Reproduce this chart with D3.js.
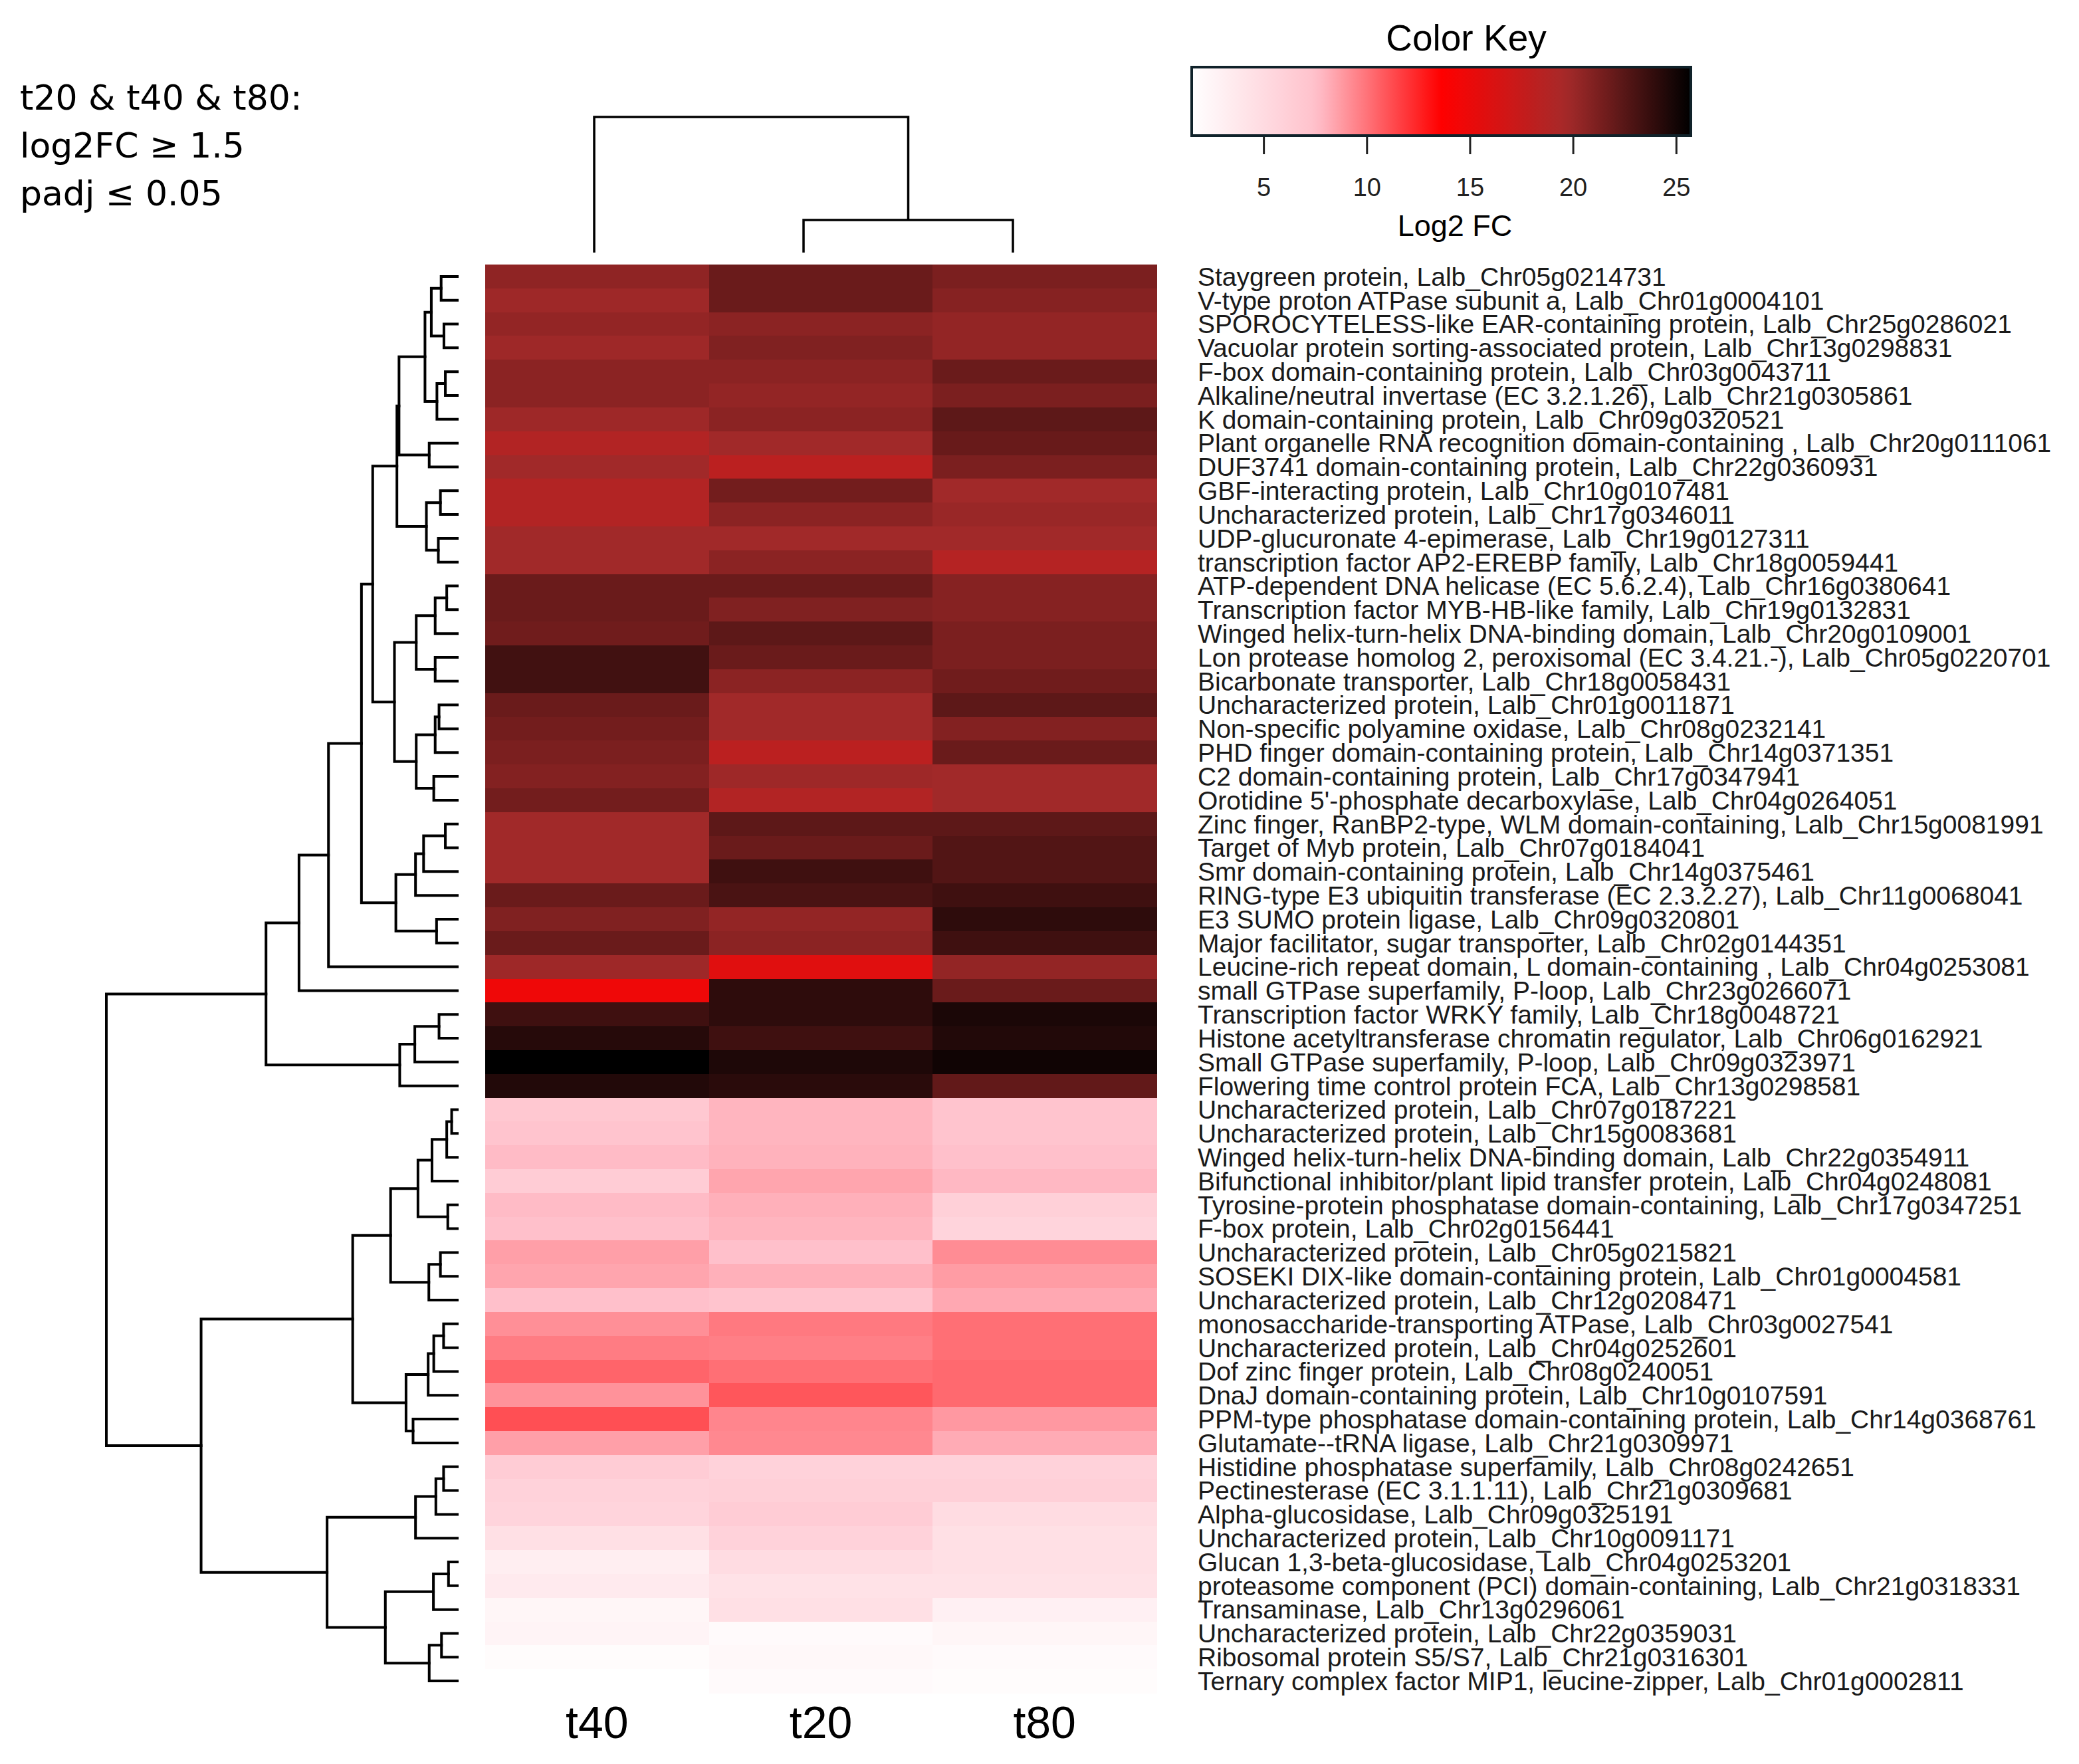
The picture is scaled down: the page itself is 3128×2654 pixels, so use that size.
<!DOCTYPE html>
<html><head><meta charset="utf-8">
<script src="https://cdn.jsdelivr.net/npm/d3@7"></script>
<style>body{margin:0;background:#fff}svg{display:block}</style>
</head><body>
<script>
// ---------------- DATA ----------------
const rowLabels = [
"Staygreen protein, Lalb_Chr05g0214731",
"V-type proton ATPase subunit a, Lalb_Chr01g0004101",
"SPOROCYTELESS-like EAR-containing protein, Lalb_Chr25g0286021",
"Vacuolar protein sorting-associated protein, Lalb_Chr13g0298831",
"F-box domain-containing protein, Lalb_Chr03g0043711",
"Alkaline/neutral invertase (EC 3.2.1.26), Lalb_Chr21g0305861",
"K domain-containing protein, Lalb_Chr09g0320521",
"Plant organelle RNA recognition domain-containing , Lalb_Chr20g0111061",
"DUF3741 domain-containing protein, Lalb_Chr22g0360931",
"GBF-interacting protein, Lalb_Chr10g0107481",
"Uncharacterized protein, Lalb_Chr17g0346011",
"UDP-glucuronate 4-epimerase, Lalb_Chr19g0127311",
"transcription factor AP2-EREBP family, Lalb_Chr18g0059441",
"ATP-dependent DNA helicase (EC 5.6.2.4), Lalb_Chr16g0380641",
"Transcription factor MYB-HB-like family, Lalb_Chr19g0132831",
"Winged helix-turn-helix DNA-binding domain, Lalb_Chr20g0109001",
"Lon protease homolog 2, peroxisomal (EC 3.4.21.-), Lalb_Chr05g0220701",
"Bicarbonate transporter, Lalb_Chr18g0058431",
"Uncharacterized protein, Lalb_Chr01g0011871",
"Non-specific polyamine oxidase, Lalb_Chr08g0232141",
"PHD finger domain-containing protein, Lalb_Chr14g0371351",
"C2 domain-containing protein, Lalb_Chr17g0347941",
"Orotidine 5'-phosphate decarboxylase, Lalb_Chr04g0264051",
"Zinc finger, RanBP2-type, WLM domain-containing, Lalb_Chr15g0081991",
"Target of Myb protein, Lalb_Chr07g0184041",
"Smr domain-containing protein, Lalb_Chr14g0375461",
"RING-type E3 ubiquitin transferase (EC 2.3.2.27), Lalb_Chr11g0068041",
"E3 SUMO protein ligase, Lalb_Chr09g0320801",
"Major facilitator, sugar transporter, Lalb_Chr02g0144351",
"Leucine-rich repeat domain, L domain-containing , Lalb_Chr04g0253081",
"small GTPase superfamily, P-loop, Lalb_Chr23g0266071",
"Transcription factor WRKY family, Lalb_Chr18g0048721",
"Histone acetyltransferase chromatin regulator, Lalb_Chr06g0162921",
"Small GTPase superfamily, P-loop, Lalb_Chr09g0323971",
"Flowering time control protein FCA, Lalb_Chr13g0298581",
"Uncharacterized protein, Lalb_Chr07g0187221",
"Uncharacterized protein, Lalb_Chr15g0083681",
"Winged helix-turn-helix DNA-binding domain, Lalb_Chr22g0354911",
"Bifunctional inhibitor/plant lipid transfer protein, Lalb_Chr04g0248081",
"Tyrosine-protein phosphatase domain-containing, Lalb_Chr17g0347251",
"F-box protein, Lalb_Chr02g0156441",
"Uncharacterized protein, Lalb_Chr05g0215821",
"SOSEKI DIX-like domain-containing protein, Lalb_Chr01g0004581",
"Uncharacterized protein, Lalb_Chr12g0208471",
"monosaccharide-transporting ATPase, Lalb_Chr03g0027541",
"Uncharacterized protein, Lalb_Chr04g0252601",
"Dof zinc finger protein, Lalb_Chr08g0240051",
"DnaJ domain-containing protein, Lalb_Chr10g0107591",
"PPM-type phosphatase domain-containing protein, Lalb_Chr14g0368761",
"Glutamate--tRNA ligase, Lalb_Chr21g0309971",
"Histidine phosphatase superfamily, Lalb_Chr08g0242651",
"Pectinesterase (EC 3.1.1.11), Lalb_Chr21g0309681",
"Alpha-glucosidase, Lalb_Chr09g0325191",
"Uncharacterized protein, Lalb_Chr10g0091171",
"Glucan 1,3-beta-glucosidase, Lalb_Chr04g0253201",
"proteasome component (PCI) domain-containing, Lalb_Chr21g0318331",
"Transaminase, Lalb_Chr13g0296061",
"Uncharacterized protein, Lalb_Chr22g0359031",
"Ribosomal protein S5/S7, Lalb_Chr21g0316301",
"Ternary complex factor MIP1, leucine-zipper, Lalb_Chr01g0002811"
];

const colLabels = ["t40", "t20", "t80"];

const t40 = [20.45,19.9,20.3,19.9,20.6,20.6,19.9,18.8,19.8,18.8,18.8,19.8,19.8,
  21.8,21.8,21.6,23.3,23.3,21.8,21.5,21.2,20.9,21.5,
  19.8,19.8,19.8,21.8,21.0,21.8,19.9,14.7,23.4,24.3,25.7,24.45,
  6.8,7.2,7.7,6.4,7.7,7.55,8.6,8.4,7.55,9.1,9.7,10.45,9.0,11.1,8.6,
  6.4,5.8,5.6,4.5,3.1,3.5,2.4,2.6,1.8,1.5];
const t20 = [21.8,21.8,20.6,21.0,20.6,20.3,20.6,19.8,18.2,21.5,20.6,19.8,20.6,
  21.8,21.0,22.3,21.8,20.6,19.8,19.8,18.2,19.9,18.8,
  22.3,21.8,23.4,23.0,20.3,20.6,15.7,24.0,24.0,23.4,24.6,24.15,
  7.9,7.9,8.0,8.4,8.05,7.9,7.55,8.05,7.2,9.8,9.6,10.1,10.9,9.4,9.3,
  5.8,6.0,6.4,5.8,4.9,4.3,4.5,2.0,2.2,2.0];
const t80 = [21.2,20.8,20.3,20.3,21.8,21.2,22.3,21.9,21.2,19.8,20.1,19.8,18.6,
  20.8,20.8,21.2,21.2,21.6,22.3,20.9,21.8,19.8,19.8,
  22.3,22.7,22.7,23.4,24.0,23.4,20.3,21.8,24.7,24.45,25.1,22.1,
  7.2,7.2,7.55,7.8,6.0,5.6,9.2,8.7,8.3,10.1,10.1,10.3,10.3,8.8,8.2,
  5.8,6.0,4.9,4.5,4.5,4.3,2.9,2.4,2.0,1.8];

const keyTicks = [5, 10, 15, 20, 25];
const colorStops = [1.5, 7.55, 13.6, 19.65, 25.7];
const colorNames = ["white", "pink", "red", "brown", "black"];

const noteLines = ["t20 & t40 & t80:", "log2FC \u2265 1.5", "padj \u2264 0.05"];

// row dendrogram: [left, right, height]; leaves = row index
const rowTree = [
  [ // upper cluster
    [
      [
        [
          [
            [
              [ [ [[0,1,4.6],[2,3,3.8],7.4], [[4,5,3.4],6,5.8], 9.2 ], [7,8,8.0], 16.6 ],
              [ [9,10,4.8], [11,12,5.4], 8.8 ],
              17.2
            ],
            [
              [ [[13,14,3.0],15,6.3], [16,17,6.3], 11.7 ],
              [ [[18,19,5.2],20,6.3], [21,22,6.7], 11.7 ],
              17.9
            ],
            24.1
          ],
          [ [ [[23,24,3.4],25,9.6], 26, 11.9 ], [27,28,5.9], 17.5 ],
          27.3
        ],
        29, 36.7
      ],
      30, 45.1
    ],
    [ [ [31,32,5.2], 33, 12.1 ], 34, 16.4 ],
    54.5
  ],
  [ // lower cluster
    [
      [
        [ [ [[35,36,1.6],37,3.0], 38, 7.2 ], [39,40,2.7], 11.2 ],
        [ [41,42,4.8], 43, 8.1 ],
        19.0
      ],
      [ [ [[44,45,3.9],46,6.7], 47, 8.3 ], [48,49,12.6], 14.6 ],
      29.8
    ],
    [
      [ [ [50,51,3.9], 52, 6.1 ], 53, 11.9 ],
      [ [ [54,55,2.5], 56, 6.8 ], [ [57,58,4.5], 59, 8.0 ], 20.5 ],
      37.1
    ],
    73.0
  ],
  100
];

// column dendrogram (indices into colLabels)
const colTree = [0, [1, 2, 24], 100];

// ---------------- CHART ----------------
const W = 3128, H = 2654;
const svg = d3.select("body").append("svg").attr("width", W).attr("height", H)
  .style("font-family", "'Liberation Sans', Arial, Helvetica, sans-serif");

const series = {t40, t20, t80};
const x = d3.scaleBand().domain(colLabels).range([730, 1740]);
const y = d3.scaleBand().domain(d3.range(rowLabels.length)).range([398, 2547]);
const color = d3.scaleLinear().domain(colorStops).range(colorNames)
  .interpolate(d3.interpolateRgb).clamp(true);

// heatmap cells
const cells = [];
rowLabels.forEach((r, i) => colLabels.forEach(c => cells.push({i, c, v: series[c][i]})));
svg.append("g").attr("shape-rendering", "crispEdges")
  .selectAll("rect").data(cells).join("rect")
  .attr("x", d => x(d.c)).attr("y", d => y(d.i))
  .attr("width", x.bandwidth() + 0.6).attr("height", y.bandwidth() + 0.6)
  .attr("fill", d => color(d.v));

// row labels
const labFs = 39;
svg.append("g").selectAll("text").data(rowLabels).join("text")
  .attr("x", 1802).attr("y", (d, i) => y(i) + y.bandwidth() / 2 + labFs * 0.355)
  .attr("font-size", labFs).attr("fill", "#1a1a1a").text(d => d);

// column labels
svg.append("g").selectAll("text").data(colLabels).join("text")
  .attr("x", d => x(d) + x.bandwidth() / 2).attr("y", 2615)
  .attr("text-anchor", "middle").attr("font-size", 68).attr("fill", "#000").text(d => d);

// row dendrogram
const hx = d3.scaleLinear().domain([0, 100]).range([688, 160]);
const rroot = d3.hierarchy(rowTree, d => Array.isArray(d) ? d.slice(0, 2) : null);
rroot.eachAfter(n => {
  n.h = n.children ? n.data[2] : 0;
  n.pos = n.children ? (n.children[0].pos + n.children[1].pos) / 2 : y(n.data) + y.bandwidth() / 2;
});
svg.append("g").attr("fill", "none").attr("stroke", "#000").attr("stroke-width", 4)
  .attr("stroke-linecap", "square")
  .selectAll("path").data(rroot.descendants().filter(n => n.children)).join("path")
  .attr("d", n => {
    const [a, b] = n.children;
    return `M${hx(a.h)},${a.pos}H${hx(n.h)}V${b.pos}H${hx(b.h)}`;
  });

// column dendrogram
const cx = d3.scalePoint().domain(colLabels).range([894, 1524]);
const cy = d3.scaleLinear().domain([0, 100]).range([380, 176]);
const croot = d3.hierarchy(colTree, d => Array.isArray(d) ? d.slice(0, 2) : null);
croot.eachAfter(n => {
  n.h = n.children ? n.data[2] : 0;
  n.pos = n.children ? (n.children[0].pos + n.children[1].pos) / 2 : cx(colLabels[n.data]);
});
svg.append("g").attr("fill", "none").attr("stroke", "#000").attr("stroke-width", 3.5)
  .selectAll("path").data(croot.descendants().filter(n => n.children)).join("path")
  .attr("d", n => {
    const [a, b] = n.children;
    return `M${a.pos},${cy(a.h)}V${cy(n.h)}H${b.pos}V${cy(b.h)}`;
  });

// color key
const keyX = d3.scaleLinear().domain([colorStops[0], colorStops[colorStops.length - 1]]).range([1793, 2544]);
const grad = svg.append("defs").append("linearGradient").attr("id", "kg")
  .attr("x1", "0%").attr("x2", "100%").attr("y1", "0%").attr("y2", "0%");
d3.range(0, 1.0001, 0.02).forEach(t => {
  const v = keyX.invert(1793 + t * 751);
  grad.append("stop").attr("offset", (t * 100) + "%").attr("stop-color", color(v));
});
svg.append("rect").attr("x", keyX.range()[0]).attr("y", 101)
  .attr("width", keyX.range()[1] - keyX.range()[0]).attr("height", 103)
  .attr("fill", "url(#kg)").attr("stroke", "#10222a").attr("stroke-width", 4);
const kt = svg.append("g");
kt.selectAll("line").data(keyTicks).join("line")
  .attr("x1", d => keyX(d)).attr("x2", d => keyX(d)).attr("y1", 206).attr("y2", 232)
  .attr("stroke", "#222").attr("stroke-width", 3);
kt.selectAll("text").data(keyTicks).join("text")
  .attr("x", d => keyX(d)).attr("y", 295).attr("text-anchor", "middle")
  .attr("font-size", 38).attr("fill", "#222").text(d => d);
svg.append("text").attr("x", 2206).attr("y", 76).attr("text-anchor", "middle")
  .attr("font-size", 55).attr("fill", "#000").text("Color Key");
svg.append("text").attr("x", 2189).attr("y", 355).attr("text-anchor", "middle")
  .attr("font-size", 45).attr("fill", "#000").text("Log2 FC");

// note text
svg.append("g").selectAll("text").data(noteLines).join("text")
  .attr("x", 30).attr("y", (d, i) => 165 + i * 72)
  .attr("font-family", "'DejaVu Sans', sans-serif")
  .attr("font-size", 52).attr("fill", "#000").text(d => d);
</script>
</body></html>
